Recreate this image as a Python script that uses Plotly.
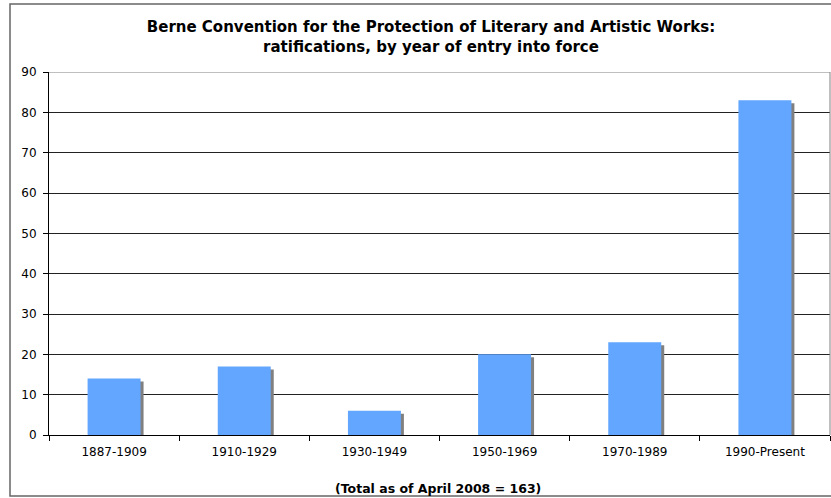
import plotly.graph_objects as go

categories = ["1887-1909", "1910-1929", "1930-1949", "1950-1969", "1970-1989", "1990-Present"]
ratifications = [14, 17, 6, 20, 23, 83]
title_text = "Berne Convention for the Protection of Literary and Artistic Works:<br>ratifications, by year of entry into force"
footer_text = "(Total as of April 2008 = 163)"

W, H = 831, 498
ml, mr, mt, mb = 49, 1, 72, 63
plot_w = W - ml - mr
plot_h = H - mt - mb
ymax = 90
px_x = 1.0 / (plot_w / len(categories))  # category units per pixel
px_y = ymax / plot_h                      # data units per pixel

bw = 0.407
shadow_dx = 3 * px_x
shadow_dy = 3 * px_y

fig = go.Figure()
fig.add_trace(go.Bar(
    x=categories, y=[v - shadow_dy for v in ratifications],
    width=bw, offset=-bw / 2 + shadow_dx,
    marker=dict(color="#808080", line=dict(width=0)),
    hoverinfo="skip", showlegend=False,
))
fig.add_trace(go.Bar(
    x=categories, y=ratifications,
    width=bw, offset=-bw / 2,
    marker=dict(color="#62A6FF", line=dict(width=0)),
    showlegend=False,
))

fig.update_layout(
    width=W, height=H,
    margin=dict(l=ml, r=mr, t=mt, b=mb, pad=0),
    paper_bgcolor="white", plot_bgcolor="white",
    barmode="overlay",
    font=dict(family="DejaVu Sans", size=12, color="black"),
    title=dict(text="<b>" + title_text + "</b>", x=431 / W, xanchor="center",
               y=1 - 32 / H, yanchor="middle", yref="container",
               font=dict(family="DejaVu Sans", size=15, color="black")),
    xaxis=dict(type="category", showline=True, linecolor="black", linewidth=1,
               ticks="outside", tickson="boundaries", ticklen=5, tickcolor="black",
               showgrid=False, tickfont=dict(size=12), ticklabelstandoff=6),
    yaxis=dict(range=[0, ymax], dtick=10, showline=True, linecolor="black", linewidth=1,
               ticks="outside", ticklen=5, tickcolor="black",
               showgrid=True, gridcolor="#222222", gridwidth=1,
               zeroline=False, tickfont=dict(size=12), ticklabelstandoff=4),
    annotations=[dict(text="<b>" + footer_text + "</b>", xref="paper", yref="paper",
                      x=(438 - ml) / plot_w, y=(H - mb - 488) / plot_h,
                      xanchor="center", yanchor="middle", showarrow=False,
                      font=dict(family="DejaVu Sans", size=12.5, color="black"))],
    shapes=[
        dict(type="rect", xref="paper", yref="paper",
             x0=(10 - ml) / plot_w, x1=(836 - ml) / plot_w,
             y0=(H - mb - 496) / plot_h, y1=(H - mb - 4) / plot_h,
             line=dict(color="#666666", width=1.5), layer="below"),
        dict(type="line", xref="paper", yref="paper", x0=1, x1=1, y0=0, y1=1,
             line=dict(color="#808080", width=1)),
        dict(type="line", xref="paper", yref="y", x0=0, x1=1, y0=ymax, y1=ymax,
             line=dict(color="#808080", width=1)),
    ],
)

fig.write_html("out.html")
